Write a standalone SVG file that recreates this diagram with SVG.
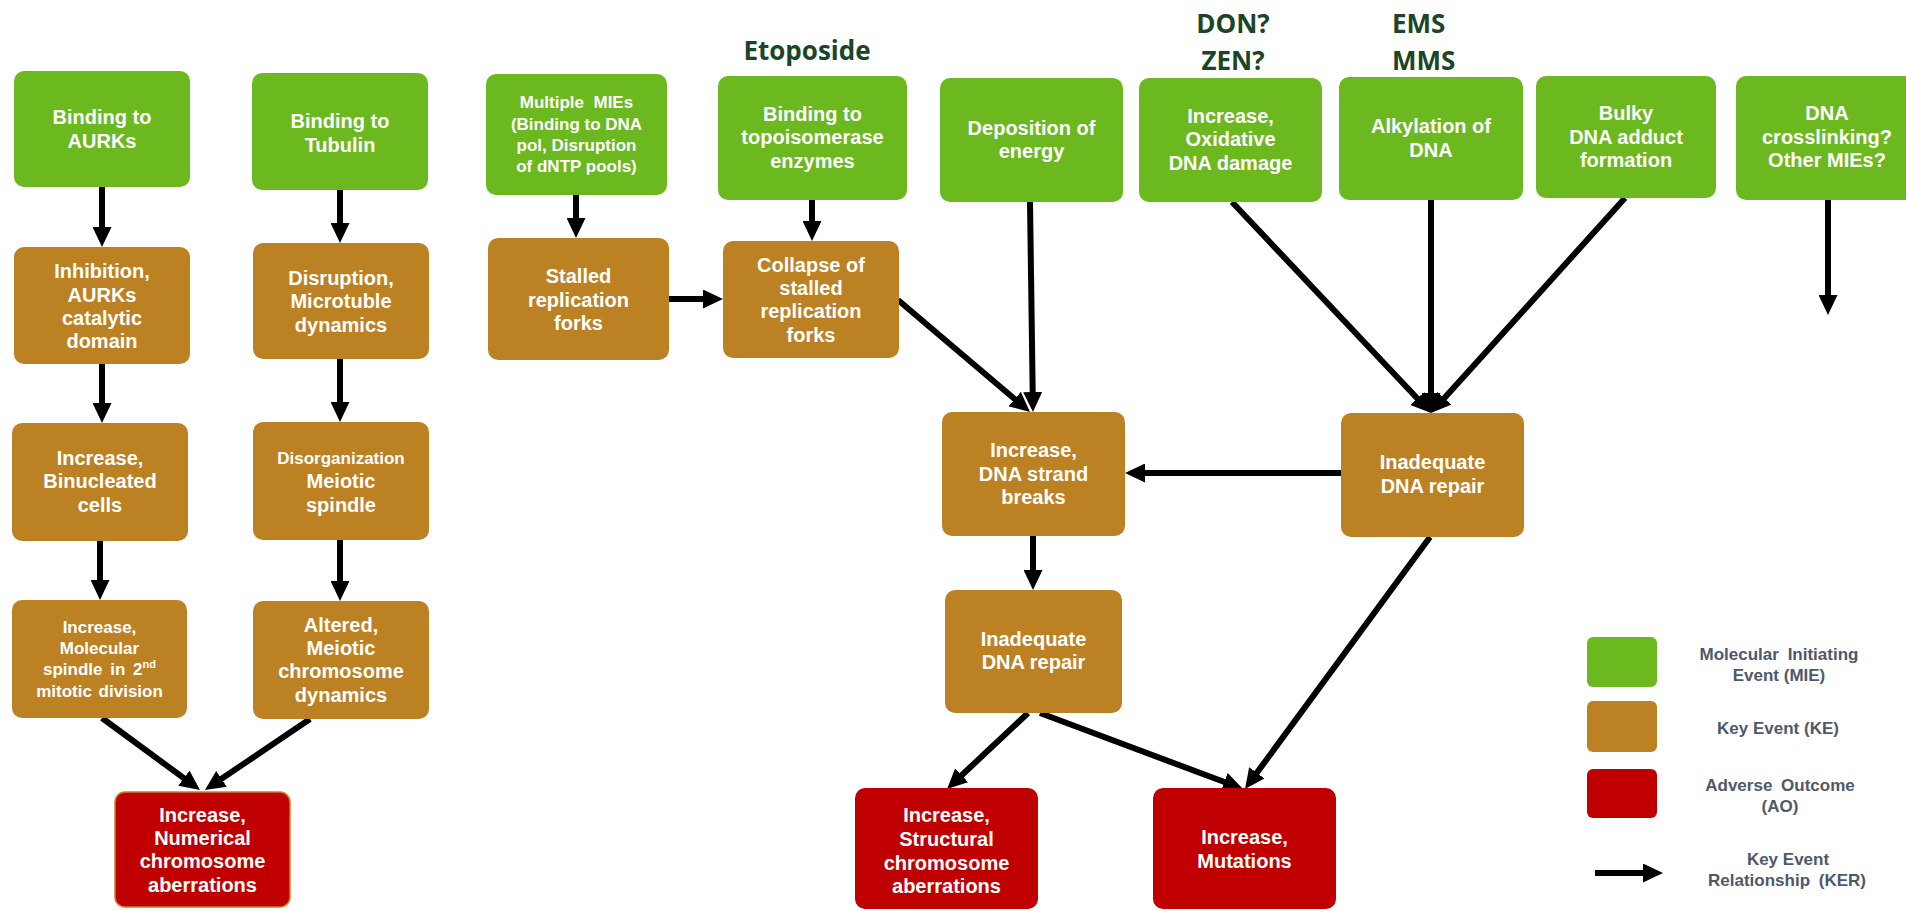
<svg xmlns="http://www.w3.org/2000/svg" width="1906" height="911" viewBox="0 0 1906 911">
  <defs>
    <style>
      .mie { fill: #6bb81f; }
      .ke { fill: #bc8123; }
      .ao { fill: #c00000; }
      .lbl { font-family: "Liberation Sans", Arial, sans-serif; font-weight: bold; font-size: 20px; fill: #ffffff; text-anchor: middle; }
      .sm { font-size: 17px; }
      .chem { font-family: "Open Sans", "Noto Sans", sans-serif; font-weight: bold; font-size: 26px; fill: #1b4526; }
      .leg { font-family: "Liberation Sans", Arial, sans-serif; font-weight: bold; font-size: 17px; fill: #4f586b; text-anchor: middle; }
      .ker { stroke: #000000; stroke-width: 6; fill: none; marker-end: url(#ah); }
    </style>
    <!-- arrowhead: tip sits 12px beyond the end of each line -->
    <marker id="ah" markerUnits="userSpaceOnUse" markerWidth="20" markerHeight="19" refX="8" refY="9.5" orient="auto">
      <path d="M0,0 L20,9.5 L0,19 Z" fill="#000000"/>
    </marker>
  </defs>

  <rect width="1906" height="911" fill="#ffffff"/>

  <!-- stressor labels -->
  <g id="stressors">
    <text class="chem" x="807" y="60" text-anchor="middle">Etoposide</text>
    <text class="chem" x="1233" y="33" text-anchor="middle">DON?</text>
    <text class="chem" x="1233" y="70" text-anchor="middle">ZEN?</text>
    <text class="chem" x="1392" y="33">EMS</text>
    <text class="chem" x="1392" y="70">MMS</text>
  </g>

  <!-- connectors (key event relationships) -->
  <g id="connectors">
    <line class="ker" x1="102" y1="187" x2="102" y2="235"/>
    <line class="ker" x1="102" y1="364" x2="102" y2="411"/>
    <line class="ker" x1="100" y1="541" x2="100" y2="588"/>
    <line class="ker" x1="340" y1="190" x2="340" y2="231"/>
    <line class="ker" x1="340" y1="359" x2="340" y2="410"/>
    <line class="ker" x1="340" y1="540" x2="340" y2="589"/>
    <line class="ker" x1="102" y1="718" x2="190.3" y2="782.9"/>
    <line class="ker" x1="310" y1="719" x2="214.9" y2="783.3"/>
    <line class="ker" x1="576" y1="195" x2="576" y2="226"/>
    <line class="ker" x1="812" y1="200" x2="812" y2="229"/>
    <line class="ker" x1="669" y1="299" x2="711" y2="299"/>
    <line class="ker" x1="898" y1="300" x2="1020.8" y2="404.2"/>
    <line class="ker" x1="1030" y1="202" x2="1032.8" y2="400"/>
    <line class="ker" x1="1232" y1="202" x2="1422.8" y2="404.3"/>
    <line class="ker" x1="1431" y1="200" x2="1431" y2="401"/>
    <line class="ker" x1="1625" y1="198" x2="1439" y2="404.1"/>
    <line class="ker" x1="1828" y1="200" x2="1828" y2="303"/>
    <line class="ker" x1="1341" y1="473" x2="1137" y2="473"/>
    <line class="ker" x1="1033" y1="536" x2="1033" y2="578"/>
    <line class="ker" x1="1028" y1="713" x2="955.8" y2="780.8"/>
    <line class="ker" x1="1040" y1="713" x2="1231.8" y2="784.8"/>
    <line class="ker" x1="1430" y1="537" x2="1252.1" y2="779.3"/>
  </g>

  <!-- aneugenic branch -->
  <g id="n-aurk-binding">
    <rect class="mie" x="14" y="71" width="176" height="116" rx="10"/>
    <text class="lbl" x="102" y="124">Binding to</text>
    <text class="lbl" x="102" y="148">AURKs</text>
  </g>
  <g id="n-tubulin-binding">
    <rect class="mie" x="252" y="73" width="176" height="117" rx="10"/>
    <text class="lbl" x="340" y="128">Binding to</text>
    <text class="lbl" x="340" y="152">Tubulin</text>
  </g>
  <g id="n-aurk-inhibition">
    <rect class="ke" x="14" y="247" width="176" height="117" rx="10"/>
    <text class="lbl" x="102" y="278">Inhibition,</text>
    <text class="lbl" x="102" y="302">AURKs</text>
    <text class="lbl" x="102" y="325">catalytic</text>
    <text class="lbl" x="102" y="348">domain</text>
  </g>
  <g id="n-microtubule">
    <rect class="ke" x="253" y="243" width="176" height="116" rx="10"/>
    <text class="lbl" x="341" y="285">Disruption,</text>
    <text class="lbl" x="341" y="308">Microtuble</text>
    <text class="lbl" x="341" y="332">dynamics</text>
  </g>
  <g id="n-binucleated">
    <rect class="ke" x="12" y="423" width="176" height="118" rx="10"/>
    <text class="lbl" x="100" y="465">Increase,</text>
    <text class="lbl" x="100" y="488">Binucleated</text>
    <text class="lbl" x="100" y="512">cells</text>
  </g>
  <g id="n-meiotic-spindle">
    <rect class="ke" x="253" y="422" width="176" height="118" rx="10"/>
    <text class="lbl sm" x="341" y="464">Disorganization</text>
    <text class="lbl" x="341" y="488">Meiotic</text>
    <text class="lbl" x="341" y="512">spindle</text>
  </g>
  <g id="n-mitotic-spindle">
    <rect class="ke" x="12" y="600" width="175" height="118" rx="10"/>
    <text class="lbl sm" x="99.5" y="633">Increase,</text>
    <text class="lbl sm" x="99.5" y="654">Molecular</text>
    <text class="lbl sm" x="99.5" y="675" word-spacing="3">spindle in 2<tspan font-size="11" dy="-7">nd</tspan></text>
    <text class="lbl sm" x="99.5" y="697" word-spacing="2">mitotic division</text>
  </g>
  <g id="n-meiotic-chromosome">
    <rect class="ke" x="253" y="601" width="176" height="118" rx="10"/>
    <text class="lbl" x="341" y="632">Altered,</text>
    <text class="lbl" x="341" y="655">Meiotic</text>
    <text class="lbl" x="341" y="678">chromosome</text>
    <text class="lbl" x="341" y="702">dynamics</text>
  </g>
  <g id="n-numerical">
    <rect class="ao" x="115" y="792" width="175" height="115" rx="10" stroke="#c9802a" stroke-width="1.5"/>
    <text class="lbl" x="202.5" y="822">Increase,</text>
    <text class="lbl" x="202.5" y="845">Numerical</text>
    <text class="lbl" x="202.5" y="868">chromosome</text>
    <text class="lbl" x="202.5" y="892">aberrations</text>
  </g>

  <!-- clastogenic / mutagenic branch -->
  <g id="n-multiple-mies">
    <rect class="mie" x="486" y="74" width="181" height="121" rx="10"/>
    <text class="lbl sm" x="576.5" y="108" xml:space="preserve">Multiple  MIEs</text>
    <text class="lbl sm" x="576.5" y="130">(Binding to DNA</text>
    <text class="lbl sm" x="576.5" y="151">pol, Disruption</text>
    <text class="lbl sm" x="576.5" y="172">of dNTP pools)</text>
  </g>
  <g id="n-topoisomerase">
    <rect class="mie" x="718" y="76" width="189" height="124" rx="10"/>
    <text class="lbl" x="812.5" y="121">Binding to</text>
    <text class="lbl" x="812.5" y="144">topoisomerase</text>
    <text class="lbl" x="812.5" y="168">enzymes</text>
  </g>
  <g id="n-stalled-forks">
    <rect class="ke" x="488" y="238" width="181" height="122" rx="10"/>
    <text class="lbl" x="578.5" y="283">Stalled</text>
    <text class="lbl" x="578.5" y="307">replication</text>
    <text class="lbl" x="578.5" y="330">forks</text>
  </g>
  <g id="n-collapse-forks">
    <rect class="ke" x="723" y="241" width="176" height="117" rx="10"/>
    <text class="lbl" x="811" y="272">Collapse of</text>
    <text class="lbl" x="811" y="295">stalled</text>
    <text class="lbl" x="811" y="318">replication</text>
    <text class="lbl" x="811" y="342">forks</text>
  </g>
  <g id="n-energy">
    <rect class="mie" x="940" y="78" width="183" height="124" rx="10"/>
    <text class="lbl" x="1031.5" y="135">Deposition of</text>
    <text class="lbl" x="1031.5" y="158">energy</text>
  </g>
  <g id="n-oxidative">
    <rect class="mie" x="1139" y="78" width="183" height="124" rx="10"/>
    <text class="lbl" x="1230.5" y="123">Increase,</text>
    <text class="lbl" x="1230.5" y="146">Oxidative</text>
    <text class="lbl" x="1230.5" y="170">DNA damage</text>
  </g>
  <g id="n-alkylation">
    <rect class="mie" x="1339" y="77" width="184" height="123" rx="10"/>
    <text class="lbl" x="1431" y="133">Alkylation of</text>
    <text class="lbl" x="1431" y="157">DNA</text>
  </g>
  <g id="n-bulky-adduct">
    <rect class="mie" x="1536" y="76" width="180" height="122" rx="10"/>
    <text class="lbl" x="1626" y="120">Bulky</text>
    <text class="lbl" x="1626" y="144">DNA adduct</text>
    <text class="lbl" x="1626" y="167">formation</text>
  </g>
  <g id="n-crosslinking">
    <rect class="mie" x="1736" y="76" width="183" height="124" rx="10"/>
    <text class="lbl" x="1827" y="120">DNA</text>
    <text class="lbl" x="1827" y="144">crosslinking?</text>
    <text class="lbl" x="1827" y="167">Other MIEs?</text>
  </g>
  <g id="n-repair-upper">
    <rect class="ke" x="1341" y="413" width="183" height="124" rx="10"/>
    <text class="lbl" x="1432.5" y="469">Inadequate</text>
    <text class="lbl" x="1432.5" y="493">DNA repair</text>
  </g>
  <g id="n-strand-breaks">
    <rect class="ke" x="942" y="412" width="183" height="124" rx="10"/>
    <text class="lbl" x="1033.5" y="457">Increase,</text>
    <text class="lbl" x="1033.5" y="481">DNA strand</text>
    <text class="lbl" x="1033.5" y="504">breaks</text>
  </g>
  <g id="n-repair-lower">
    <rect class="ke" x="945" y="590" width="177" height="123" rx="10"/>
    <text class="lbl" x="1033.5" y="646">Inadequate</text>
    <text class="lbl" x="1033.5" y="669">DNA repair</text>
  </g>
  <g id="n-structural">
    <rect class="ao" x="855" y="788" width="183" height="121" rx="10"/>
    <text class="lbl" x="946.5" y="822">Increase,</text>
    <text class="lbl" x="946.5" y="846">Structural</text>
    <text class="lbl" x="946.5" y="870">chromosome</text>
    <text class="lbl" x="946.5" y="893">aberrations</text>
  </g>
  <g id="n-mutations">
    <rect class="ao" x="1153" y="788" width="183" height="121" rx="10"/>
    <text class="lbl" x="1244.5" y="844">Increase,</text>
    <text class="lbl" x="1244.5" y="868">Mutations</text>
  </g>

  <!-- legend -->
  <g id="legend">
    <rect class="mie" x="1587" y="637" width="70" height="50" rx="6"/>
    <rect class="ke" x="1587" y="701" width="70" height="51" rx="6"/>
    <rect class="ao" x="1587" y="769" width="70" height="49" rx="6"/>
    <line class="ker" x1="1595" y1="873" x2="1651" y2="873"/>
    <text class="leg" x="1779" y="660" word-spacing="4">Molecular Initiating</text>
    <text class="leg" x="1779" y="681">Event (MIE)</text>
    <text class="leg" x="1778" y="734">Key Event (KE)</text>
    <text class="leg" x="1780" y="791" word-spacing="4">Adverse Outcome</text>
    <text class="leg" x="1780" y="812">(AO)</text>
    <text class="leg" x="1788" y="865">Key Event</text>
    <text class="leg" x="1787" y="886" word-spacing="4">Relationship (KER)</text>
  </g>
</svg>
